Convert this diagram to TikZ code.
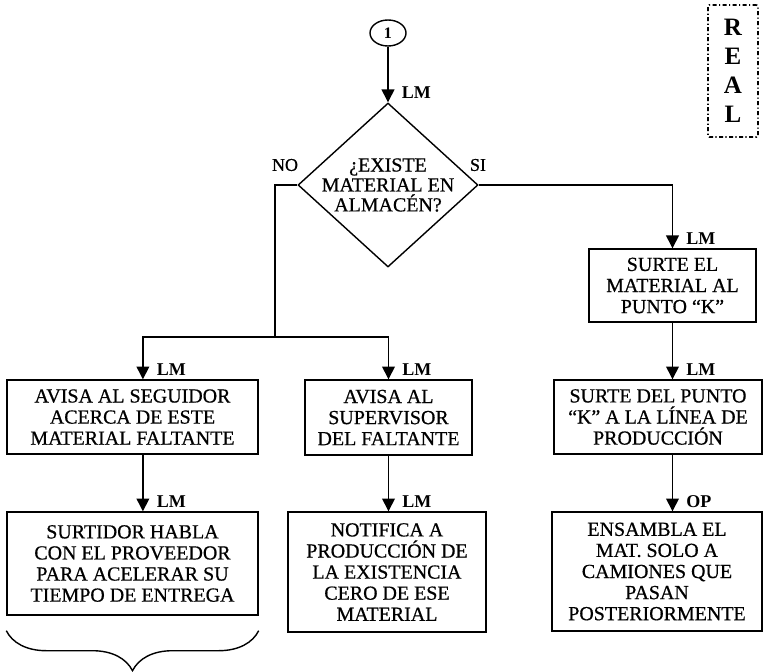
\documentclass[tikz,border=0pt]{standalone}
\usepackage{fontspec}
\setmainfont{Liberation Serif}
\newfontfamily\scanfont{Liberation Serif}[FakeBold=0.6]
\usetikzlibrary{arrows.meta,shapes.geometric,decorations.pathreplacing}
\begin{document}
\begin{tikzpicture}[
  box/.style={draw, line width=1pt, align=center, inner sep=2pt, font=\scanfont\fontsize{14.2}{15}\selectfont},
  conn/.style={line width=1pt},
  arrow/.style={-{Triangle[length=0.32cm,width=0.32cm]}, line width=1pt},
  lm/.style={font=\bfseries\fontsize{12.8}{14}\selectfont, anchor=base west, inner sep=0pt, xshift=0.33cm, yshift=0.1cm},
  tag/.style={font=\scanfont\fontsize{12.8}{14}\selectfont, inner sep=0pt}
]
\useasboundingbox (0,0) rectangle (19.075,-16.8);
\node[draw, ellipse, line width=1pt, minimum width=0.9cm, minimum height=0.65cm, inner sep=0pt,
  font=\bfseries\fontsize{11.4}{12}\selectfont] (uno) at (9.7,-0.825) {1};
\node[draw, diamond, line width=1pt, minimum width=4.5cm, minimum height=4.1cm, inner sep=0pt,
  label={[align=center, font=\scanfont\fontsize{14.2}{14.2}\selectfont]center:¿EXISTE\\MATERIAL EN\\ALMACÉN?}] (pregunta) at (9.7,-4.625) {};
\node[tag] (no) at (7.125,-4.125) {NO};
\node[tag] (si) at (11.95,-4.125) {SI};
\coordinate (nojoin) at (6.875,-8.425);
\node[box, minimum width=6.275cm, minimum height=1.85cm] (seguidor) at (3.3125,-10.425) {
  AVISA AL SEGUIDOR\\ACERCA DE ESTE\\MATERIAL FALTANTE
};
\node[box, minimum width=6.275cm, minimum height=2.575cm] (proveedor) at (3.3125,-14.0875) {
  SURTIDOR HABLA\\CON EL PROVEEDOR\\PARA ACELERAR SU\\TIEMPO DE ENTREGA
};
\node[box, minimum width=4.175cm, minimum height=1.875cm] (supervisor) at (9.7125,-10.4375) {
  AVISA AL\\SUPERVISOR\\DEL FALTANTE
};
\node[box, minimum width=4.95cm, minimum height=3cm] (notifica) at (9.675,-14.3) {
  NOTIFICA A\\PRODUCCIÓN DE\\LA EXISTENCIA\\CERO DE ESE\\MATERIAL
};
\node[box, minimum width=4.175cm, minimum height=1.825cm] (surte) at (16.8125,-7.1375) {
  SURTE EL\\MATERIAL AL\\PUNTO “K”
};
\node[box, minimum width=5.2cm, minimum height=1.85cm] (linea) at (16.45,-10.425) {
  SURTE DEL PUNTO\\“K” A LA LÍNEA DE\\PRODUCCIÓN
};
\node[box, minimum width=5.25cm, minimum height=2.975cm] (ensambla) at (16.425,-14.2875) {
  ENSAMBLA EL\\MAT. SOLO A\\CAMIONES QUE\\PASAN\\POSTERIORMENTE
};
\node[draw, line width=1.3pt, dash pattern=on 0.1cm off 0.06cm on 0.03cm off 0.06cm, rounded corners=1pt,
  minimum width=1.25cm, minimum height=3.3cm, align=center,
  font=\bfseries\fontsize{17.8}{20.6}\selectfont] (real) at (18.325,-1.775) {R\\E\\A\\L};
\draw[arrow] (uno) -- (pregunta) node[lm, pos=1] {LM};
\draw[conn] (pregunta.west) -| (nojoin);
\draw[arrow] (nojoin) -| ([xshift=0.26cm]seguidor.north) node[lm, pos=1] {LM};
\draw[arrow] (nojoin) -| (supervisor.north) node[lm, pos=1] {LM};
\draw[arrow] ([xshift=0.26cm]seguidor.south) -- ([xshift=0.26cm]proveedor.north) node[lm, pos=1] {LM};
\draw[arrow] (supervisor.south) -- (supervisor.south |- notifica.north) node[lm, pos=1] {LM};
\draw[arrow] (pregunta.east) -| (surte.north) node[lm, pos=1] {LM};
\draw[arrow] (surte.south) -- (surte.south |- linea.north) node[lm, pos=1] {LM};
\draw[arrow] (surte.south |- linea.south) -- (surte.south |- ensambla.north) node[lm, pos=1] {OP};
\draw[conn, decorate, decoration={brace, mirror, amplitude=1cm}]
  ([yshift=-0.375cm]proveedor.south west) -- ([yshift=-0.375cm]proveedor.south east);
\end{tikzpicture}
\end{document}
